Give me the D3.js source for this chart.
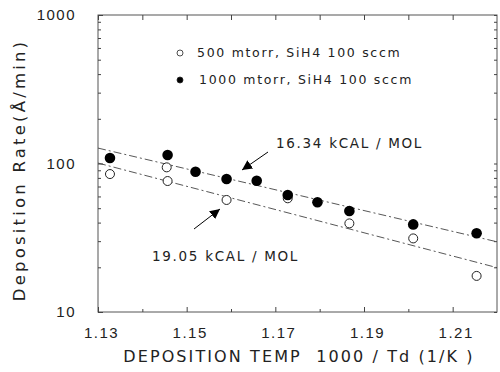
<!DOCTYPE html>
<html>
<head>
<meta charset="utf-8">
<script src="https://cdn.jsdelivr.net/npm/d3@7"></script>
<style>
  body { margin: 0; background: #fff; }
  svg { font-family: 'DejaVu Sans', sans-serif; }
  text { white-space: pre; }
</style>
</head>
<body>
<div id="chart"></div>
<script>
// 1000/Td (1/K) and deposition rate (Å/min)
const x500 = [1.1327, 1.1455, 1.1457, 1.159, 1.1728, 1.1867, 1.2011, 1.2154];
const r500 = [84.9, 94.2, 76.2, 56.8, 58.3, 39.5, 31.3, 17.5];
const x1000 = [1.1327, 1.1457, 1.152, 1.159, 1.1658, 1.1728, 1.1795, 1.1867, 1.2011, 1.2154];
const r1000 = [109, 114, 88, 78.7, 76.6, 61.4, 54.8, 47.9, 38.9, 33.9];

// Arrhenius fit lines, end points
const fitX = [1.13, 1.22];
const fit1000 = [127, 29.7];
const fit500 = [100.7, 19.9];

const xTicks = [1.13, 1.15, 1.17, 1.19, 1.21];
const xMinor = [1.14, 1.16, 1.18, 1.20];
const yTicks = [10, 100, 1000];
const yMinor = [20, 30, 40, 50, 60, 70, 80, 90, 200, 300, 400, 500, 600, 700, 800, 900];

const legendLabels = ['500 mtorr, SiH4 100 sccm', '1000 mtorr, SiH4 100 sccm'];

const width = 500, height = 372;
const margin = { top: 15, right: 3, bottom: 60, left: 98 };

const svg = d3.select('#chart')
  .append('svg')
  .attr('width', width)
  .attr('height', height);

const x = d3.scaleLinear()
  .domain([1.13, 1.22])
  .range([margin.left, width - margin.right]);

const y = d3.scaleLog()
  .domain([10, 1000])
  .range([height - margin.bottom, margin.top]);

const ink = '#222';

// frame
svg.append('rect')
  .attr('x', margin.left)
  .attr('y', margin.top)
  .attr('width', width - margin.right - margin.left)
  .attr('height', height - margin.bottom - margin.top)
  .attr('fill', 'none')
  .attr('stroke', '#555')
  .attr('stroke-width', 1);

const styleAxis = (g) => {
  g.select('.domain').remove();
  g.selectAll('line').attr('stroke', '#444');
  g.selectAll('text')
    .attr('fill', ink)
    .style('font-size', '15px')
    .style('letter-spacing', '1.5px');
};

// left axis
svg.append('g')
  .attr('transform', `translate(${margin.left},0)`)
  .call(d3.axisLeft(y).tickValues(yTicks).tickFormat(d3.format('d')).tickSize(-5).tickPadding(22))
  .call(styleAxis);
svg.append('g')
  .attr('transform', `translate(${margin.left},0)`)
  .call(d3.axisLeft(y).tickValues(yMinor).tickFormat('').tickSize(-3))
  .call(styleAxis);

// right axis
svg.append('g')
  .attr('transform', `translate(${width - margin.right},0)`)
  .call(d3.axisRight(y).tickValues(yTicks.concat(yMinor)).tickFormat('').tickSize(-3))
  .call(styleAxis);

// bottom axis
svg.append('g')
  .attr('transform', `translate(0,${height - margin.bottom})`)
  .call(d3.axisBottom(x).tickValues(xTicks).tickFormat(d3.format('.2f')).tickSize(-5).tickPadding(15))
  .call(styleAxis)
  .call((g) => g.selectAll('text').attr('dx', 3));
svg.append('g')
  .attr('transform', `translate(0,${height - margin.bottom})`)
  .call(d3.axisBottom(x).tickValues(xMinor).tickFormat('').tickSize(-3))
  .call(styleAxis);

// top axis
svg.append('g')
  .attr('transform', `translate(0,${margin.top})`)
  .call(d3.axisTop(x).tickValues(xTicks.concat(xMinor)).tickFormat('').tickSize(-5))
  .call(styleAxis);

// axis titles
svg.append('text')
  .attr('x', 299)
  .attr('y', 362)
  .attr('text-anchor', 'middle')
  .attr('fill', ink)
  .style('font-size', '16px')
  .style('letter-spacing', '2.1px')
  .text('DEPOSITION TEMP  1000 / Td (1/K )');

svg.append('text')
  .attr('transform', 'translate(25,170) rotate(-90)')
  .attr('text-anchor', 'middle')
  .attr('fill', ink)
  .style('font-size', '16.5px')
  .style('letter-spacing', '3.2px')
  .text('Deposition Rate(Å/min)');

// fit lines
const line = d3.line().x((d) => x(d[0])).y((d) => y(d[1]));
[fit1000, fit500].forEach((fit) => {
  svg.append('path')
    .datum(fitX.map((v, i) => [v, fit[i]]))
    .attr('d', line)
    .attr('fill', 'none')
    .attr('stroke', '#444')
    .attr('stroke-width', 0.9)
    .attr('stroke-dasharray', '8,3,2,3');
});

// data points
svg.selectAll('.open')
  .data(x500.map((v, i) => [v, r500[i]]))
  .enter()
  .append('circle')
  .attr('cx', (d) => x(d[0]))
  .attr('cy', (d) => y(d[1]))
  .attr('r', 4.5)
  .attr('fill', '#fff')
  .attr('stroke', ink)
  .attr('stroke-width', 1);

svg.selectAll('.filled')
  .data(x1000.map((v, i) => [v, r1000[i]]))
  .enter()
  .append('circle')
  .attr('cx', (d) => x(d[0]))
  .attr('cy', (d) => y(d[1]))
  .attr('r', 5.3)
  .attr('fill', '#000');

// legend
legendLabels.forEach((label, i) => {
  const ly = 53 + 27 * i;
  svg.append('circle')
    .attr('cx', 180)
    .attr('cy', ly)
    .attr('r', 3)
    .attr('fill', i === 0 ? '#fff' : '#000')
    .attr('stroke', ink)
    .attr('stroke-width', 0.8);
  svg.append('text')
    .attr('x', i === 0 ? 197 : 199)
    .attr('y', ly)
    .attr('dy', '0.35em')
    .attr('fill', ink)
    .style('font-size', '12.5px')
    .style('letter-spacing', '1.7px')
    .text(label);
});

// annotations with arrows
svg.append('defs')
  .append('marker')
  .attr('id', 'arrow')
  .attr('viewBox', '0 0 10 10')
  .attr('refX', 10)
  .attr('refY', 5)
  .attr('markerWidth', 10)
  .attr('markerHeight', 10)
  .attr('markerUnits', 'userSpaceOnUse')
  .attr('orient', 'auto')
  .append('path')
  .attr('d', 'M0,0L10,5L0,10Z')
  .attr('fill', '#000');

const notes = [
  { text: '16.34 kCAL / MOL', tx: 276, ty: 143, from: [268, 152], to: [242, 170] },
  { text: '19.05 kCAL / MOL', tx: 152, ty: 256, from: [194, 229], to: [220, 209] }
];
notes.forEach((n) => {
  svg.append('line')
    .attr('x1', n.from[0]).attr('y1', n.from[1])
    .attr('x2', n.to[0]).attr('y2', n.to[1])
    .attr('stroke', '#000')
    .attr('stroke-width', 1)
    .attr('marker-end', 'url(#arrow)');
  svg.append('text')
    .attr('x', n.tx)
    .attr('y', n.ty)
    .attr('dy', '0.35em')
    .attr('fill', ink)
    .style('font-size', '13.5px')
    .style('letter-spacing', '1.7px')
    .text(n.text);
});
</script>
</body>
</html>
